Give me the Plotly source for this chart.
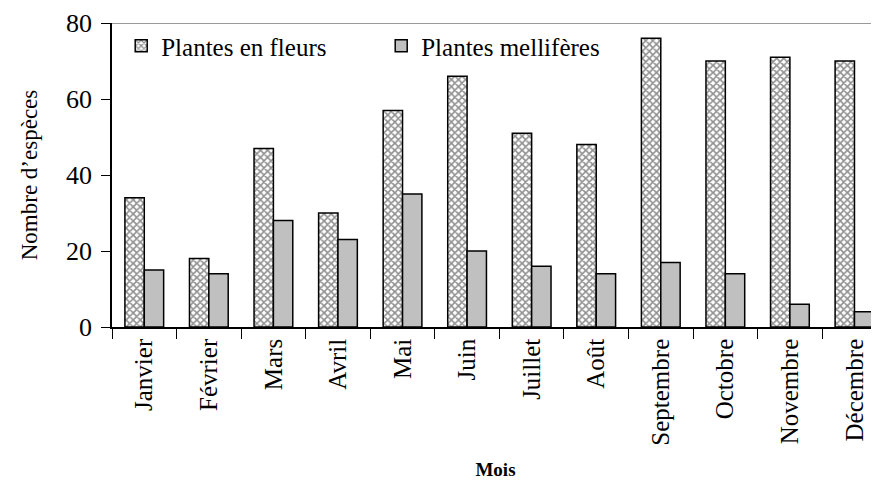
import plotly.graph_objects as go

mois = ["Janvier", "Février", "Mars", "Avril", "Mai", "Juin", "Juillet",
        "Août", "Septembre", "Octobre", "Novembre", "Décembre"]
plantes_fleurs = [34, 18, 47, 30, 57, 66, 51, 48, 76, 70, 71, 70]
plantes_melliferes = [15, 14, 28, 23, 35, 20, 16, 14, 17, 14, 6, 4]
y_ticks = [0, 20, 40, 60, 80]

FONT = "Liberation Serif"

fig = go.Figure()
fig.add_trace(go.Bar(
    x=mois, y=plantes_fleurs, name="Plantes en fleurs",
    marker=dict(color="white", line=dict(color="black", width=1.5),
                pattern=dict(shape="x", fgcolor="#222222", bgcolor="white",
                             size=5, solidity=0.55, fillmode="overlay")),
))
fig.add_trace(go.Bar(
    x=mois, y=plantes_melliferes, name="Plantes mellifères",
    marker=dict(color="#c0c0c0", line=dict(color="black", width=1.5)),
))

fig.update_layout(
    width=871, height=473,
    margin=dict(l=104, r=0, t=15, b=154),
    paper_bgcolor="white", plot_bgcolor="white",
    barmode="group", bargap=0.4, bargroupgap=0,
    font=dict(family=FONT, color="black"),
    showlegend=True,
    legend=dict(orientation="h", x=0.012, y=1.0, xanchor="left", yanchor="top",
                font=dict(size=25, family=FONT), bgcolor="rgba(0,0,0,0)",
                itemwidth=30, tracegroupgap=0, entrywidth=215),
    xaxis=dict(
        type="category", range=[-0.5, 11.38], automargin=False,
        showline=True, linecolor="black", linewidth=1.5,
        ticks="outside", tickson="boundaries", ticklen=10, tickcolor="black",
        tickangle=-90, tickfont=dict(size=25, family=FONT),
        title=dict(text="<b>Mois</b>", font=dict(size=19, family=FONT), standoff=18),
        showgrid=False, zeroline=False,
    ),
    yaxis=dict(
        range=[0, 80], tickvals=y_ticks, automargin=False,
        showline=True, linecolor="black", linewidth=1.5,
        ticks="outside", ticklen=9, tickcolor="black",
        tickfont=dict(size=26, family=FONT), ticklabelstandoff=4,
        title=dict(text="Nombre d’espèces", font=dict(size=23, family=FONT), standoff=22),
        showgrid=False, zeroline=False,
    ),
    shapes=[dict(type="line", xref="paper", yref="y", x0=0, x1=1, y0=80, y1=80,
                 line=dict(color="#777777", width=1.5), layer="below")],
)

fig.write_html("out.html")
